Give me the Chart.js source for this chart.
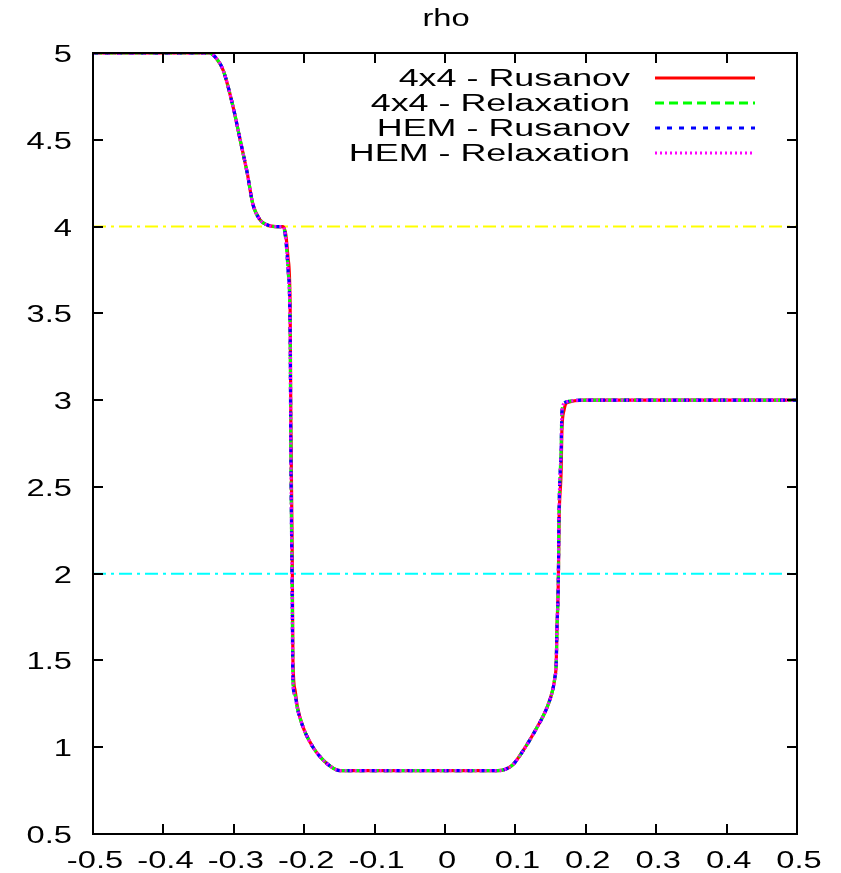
<!DOCTYPE html>
<html><head><meta charset="utf-8">
<script src="https://cdn.jsdelivr.net/npm/chart.js@4"></script>
<style>html,body{margin:0;padding:0;background:#fff}#wrap{width:841px;height:873px}</style>
</head><body><div id="wrap"><canvas id="c" width="841" height="873"></canvas></div>
<script>
const titleText = 'rho';
const xValues = [-0.5, -0.4, -0.335, -0.325, -0.315, -0.301, -0.291, -0.281, -0.273, -0.263,
  -0.253, -0.240, -0.230, -0.226, -0.223, -0.220, -0.219, -0.217, -0.216, -0.213,
  -0.210, -0.202, -0.1875, -0.173, -0.159, -0.149, -0.10, 0.0, 0.075, 0.085,
  0.0966, 0.111, 0.131, 0.145, 0.153, 0.156, 0.158, 0.159, 0.161, 0.162,
  0.165, 0.166, 0.169, 0.173, 0.2, 0.5];
const rhoRusanov4x4 = [5, 5, 5, 4.97, 4.90, 4.69, 4.50, 4.31, 4.13, 4.04,
  4.01, 4.00, 4.00, 3.95, 3.82, 3.55, 2.90, 2.10, 1.50, 1.33,
  1.24, 1.12, 1.00, 0.926, 0.880, 0.865, 0.865, 0.865, 0.865, 0.872,
  0.900, 0.980, 1.116, 1.23, 1.33, 1.40, 1.485, 1.675, 1.96, 2.30,
  2.60, 2.82, 2.94, 2.985, 3, 3];
const rhoRelaxation4x4 = [5, 5, 5, 4.97, 4.90, 4.69, 4.50, 4.31, 4.13, 4.04,
  4.01, 4.00, 4.00, 3.92, 3.75, 3.40, 2.71, 1.85, 1.37, 1.30,
  1.23, 1.12, 1.00, 0.926, 0.880, 0.865, 0.865, 0.865, 0.865, 0.872,
  0.900, 0.980, 1.116, 1.23, 1.33, 1.40, 1.485, 1.675, 1.96, 2.35,
  2.73, 2.925, 2.98, 2.99, 3, 3];
const rhoRusanovHEM = [5, 5, 5, 4.97, 4.90, 4.69, 4.50, 4.31, 4.13, 4.04,
  4.01, 4.00, 4.00, 3.92, 3.75, 3.40, 2.71, 1.85, 1.37, 1.30,
  1.23, 1.12, 1.00, 0.926, 0.880, 0.865, 0.865, 0.865, 0.865, 0.872,
  0.900, 0.980, 1.116, 1.23, 1.33, 1.40, 1.485, 1.675, 1.96, 2.35,
  2.73, 2.925, 2.98, 2.99, 3, 3];
const rhoRelaxationHEM = [5, 5, 5, 4.97, 4.90, 4.69, 4.50, 4.31, 4.13, 4.04,
  4.01, 4.00, 4.00, 3.92, 3.75, 3.40, 2.71, 1.85, 1.37, 1.30,
  1.23, 1.12, 1.00, 0.926, 0.880, 0.865, 0.865, 0.865, 0.865, 0.872,
  0.900, 0.980, 1.116, 1.23, 1.33, 1.40, 1.485, 1.675, 1.96, 2.35,
  2.73, 2.925, 2.98, 2.99, 3, 3];
const seriesLabels = ['4x4 - Rusanov', '4x4 - Relaxation', 'HEM - Rusanov', 'HEM - Relaxation'];
const seriesColors = ['#ff0000', '#00ff00', '#0000ff', '#ff00ff'];
const seriesDashes = [[], [9, 5], [5, 7], [2, 3]];
const refLevels = [4, 2];
const refColors = ['#ffff00', '#00ffff'];
const xTicks = [-0.5, -0.4, -0.3, -0.2, -0.1, 0, 0.1, 0.2, 0.3, 0.4, 0.5];
const xTickLabels = ['-0.5', '-0.4', '-0.3', '-0.2', '-0.1', '0', '0.1', '0.2', '0.3', '0.4', '0.5'];
const yTicks = [0.5, 1, 1.5, 2, 2.5, 3, 3.5, 4, 4.5, 5];
const yTickLabels = ['0.5', '1', '1.5', '2', '2.5', '3', '3.5', '4', '4.5', '5'];

const seriesValues = [rhoRusanov4x4, rhoRelaxation4x4, rhoRusanovHEM, rhoRelaxationHEM];
const datasets = seriesValues.map((vals, i) => ({
  label: seriesLabels[i],
  data: xValues.map((x, k) => ({x: x, y: vals[k]})),
  borderColor: seriesColors[i],
  borderDash: seriesDashes[i],
  borderWidth: 3.2,
  pointRadius: 0,
  fill: false,
  cubicInterpolationMode: 'monotone',
  order: 4 - i
}));
refLevels.forEach((lv, i) => {
  datasets.push({
    label: '_ref' + i,
    data: [{x: xTicks[0], y: lv}, {x: xTicks[xTicks.length - 1], y: lv}],
    borderColor: refColors[i],
    borderDash: [13, 5, 3, 5],
    borderWidth: 2,
    pointRadius: 0,
    fill: false,
    order: 10 + i
  });
});

const SX = 1.42;
const SX_KEY = 1.56;
const FONT = '23px "Liberation Sans", Arial, sans-serif';
function stretchedText(ctx, s, px, py, align, sx) {
  ctx.save();
  ctx.translate(px, py);
  ctx.scale(sx || SX, 1);
  ctx.textAlign = align;
  ctx.textBaseline = 'alphabetic';
  ctx.fillText(s, 0, 0);
  ctx.restore();
}

const gnuplotDecor = {
  id: 'gnuplotDecor',
  afterDraw(chart) {
    const ctx = chart.ctx, a = chart.chartArea, x = chart.scales.x, y = chart.scales.y;
    ctx.save();
    ctx.strokeStyle = '#000';
    ctx.lineWidth = 2;
    ctx.setLineDash([]);
    ctx.beginPath();
    const TL = 10;
    xTicks.forEach(v => {
      const p = Math.round(x.getPixelForValue(v));
      ctx.moveTo(p, a.bottom); ctx.lineTo(p, a.bottom - TL);
      ctx.moveTo(p, a.top); ctx.lineTo(p, a.top + TL);
    });
    yTicks.forEach(v => {
      const p = Math.round(y.getPixelForValue(v));
      ctx.moveTo(a.left, p); ctx.lineTo(a.left + TL, p);
      ctx.moveTo(a.right, p); ctx.lineTo(a.right - TL, p);
    });
    ctx.stroke();
    ctx.strokeRect(a.left, a.top, a.right - a.left, a.bottom - a.top);

    ctx.fillStyle = '#000';
    ctx.font = FONT;
    xTicks.forEach((v, i) => {
      stretchedText(ctx, xTickLabels[i], x.getPixelForValue(v) + 2, 868, 'center');
    });
    yTicks.forEach((v, i) => {
      stretchedText(ctx, yTickLabels[i], 72, y.getPixelForValue(v) + 9, 'right');
    });
    stretchedText(ctx, titleText, 446, 26, 'center');

    // key
    seriesLabels.forEach((lab, i) => {
      const cy = 78 + 25 * i;
      ctx.fillStyle = '#000';
      stretchedText(ctx, lab, 630, cy + 8, 'right', SX_KEY);
      ctx.beginPath();
      ctx.strokeStyle = seriesColors[i];
      ctx.lineWidth = 2.8;
      ctx.setLineDash(seriesDashes[i]);
      ctx.moveTo(655, cy); ctx.lineTo(755, cy);
      ctx.stroke();
    });
    ctx.restore();
  }
};

new Chart(document.getElementById('c'), {
  type: 'line',
  data: {datasets: datasets},
  options: {
    responsive: false,
    animation: false,
    devicePixelRatio: 1,
    layout: {padding: {top: 53, right: 44, left: 0, bottom: 0}},
    plugins: {legend: {display: false}, title: {display: false}, tooltip: {enabled: false}},
    scales: {
      x: {
        type: 'linear', min: -0.5, max: 0.5,
        afterBuildTicks: s => { s.ticks = xTicks.map(v => ({value: v})); },
        afterFit: s => { s.height = 39; },
        grid: {display: false}, border: {display: false}, ticks: {display: false}
      },
      y: {
        type: 'linear', min: 0.5, max: 5,
        afterBuildTicks: s => { s.ticks = yTicks.map(v => ({value: v})); },
        afterFit: s => { s.width = 93; },
        grid: {display: false}, border: {display: false}, ticks: {display: false}
      }
    }
  },
  plugins: [gnuplotDecor]
});
</script></body></html>
